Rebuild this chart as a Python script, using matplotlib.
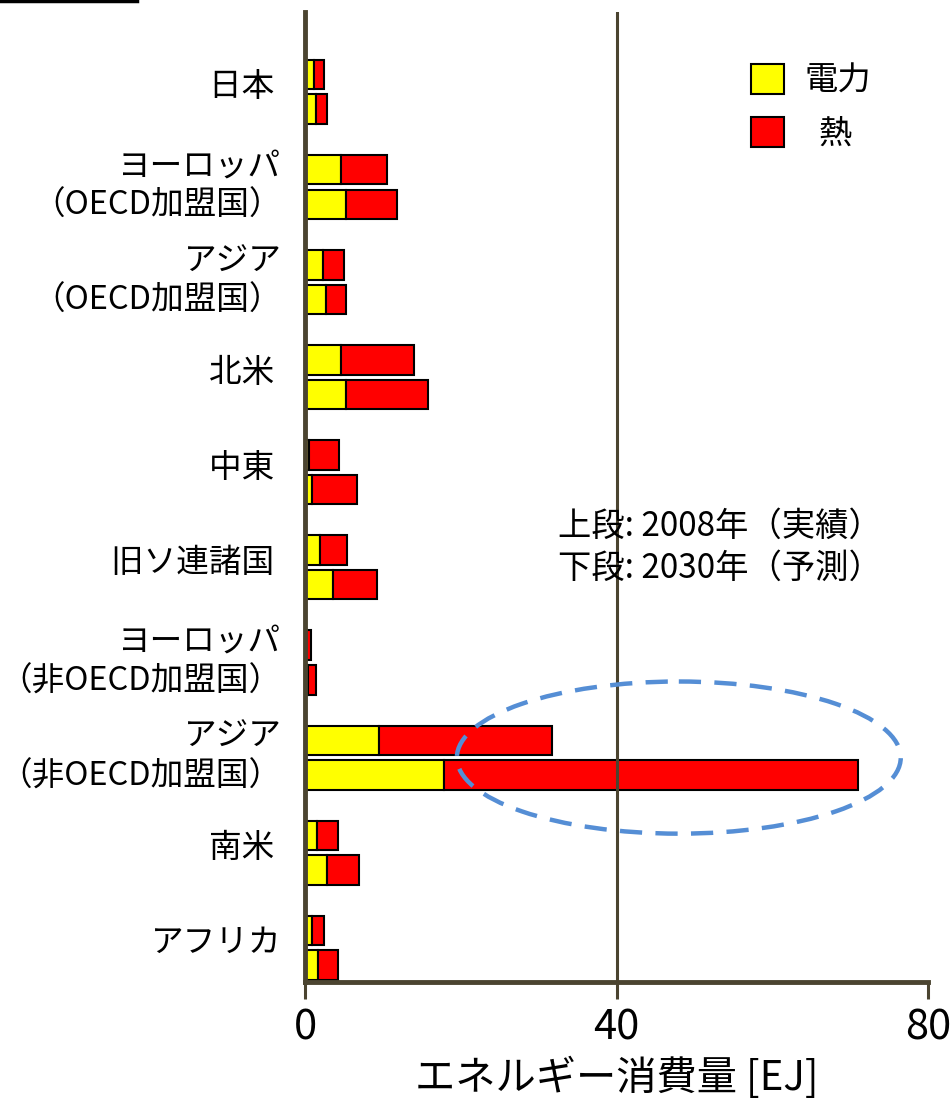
import matplotlib.pyplot as plt
from matplotlib.patches import Ellipse
from matplotlib.lines import Line2D
from matplotlib.transforms import ScaledTranslation

plt.rcParams['font.family'] = ['Noto Sans CJK JP', 'DejaVu Sans']

# ---------------------------------------------------------
# Data: energy use by region [EJ], upper bar 2008, lower bar 2030
# ---------------------------------------------------------
regions = [
    '日本 ',
    'ヨーロッパ\n（OECD加盟国）',
    'アジア\n（OECD加盟国）',
    '北米 ',
    '中東 ',
    '旧ソ連諸国 ',
    'ヨーロッパ\n（非OECD加盟国）',
    'アジア\n（非OECD加盟国）',
    '南米 ',
    'アフリカ',
]
power_2008 = [1.2, 4.6, 2.3, 4.6, 0.5, 1.9, 0.1, 9.5, 1.6, 0.9]
heat_2008 = [1.2, 5.9, 2.7, 9.4, 3.9, 3.5, 0.7, 22.2, 2.6, 1.5]
power_2030 = [1.4, 5.3, 2.7, 5.3, 0.9, 3.6, 0.4, 17.8, 2.8, 1.7]
heat_2030 = [1.4, 6.5, 2.6, 10.5, 5.8, 5.7, 1.0, 53.2, 4.1, 2.5]

x_ticks = [0, 40, 80]

YELLOW = '#FFFF00'
RED = '#FF0000'
AXIS = '#4B4430'

fig = plt.figure(figsize=(9.52, 11.04), dpi=100)
ax = fig.add_axes([0.3204, 0.1105, 0.6544, 0.8786])

pos = list(range(len(regions)))
off = 0.182
h = 0.31
upper = [p - off for p in pos]
lower = [p + off for p in pos]

bar_kw = dict(height=h, edgecolor='black', linewidth=1.5, zorder=2)
b1 = ax.barh(upper, power_2008, color=YELLOW, **bar_kw)
b2 = ax.barh(upper, heat_2008, left=power_2008, color=RED, **bar_kw)
ax.barh(lower, power_2030, color=YELLOW, **bar_kw)
ax.barh(lower, heat_2030, left=power_2030, color=RED, **bar_kw)

# vertical reference at 40 EJ sits in front of the bars
ax.axvline(40, color=AXIS, lw=2.2, zorder=3)

ax.set_xlim(0, 80)
ax.set_ylim(9.36, -0.84)
ax.set_xticks(x_ticks)
ax.set_xticklabels([str(t) for t in x_ticks], fontsize=30)
ax.set_yticks(pos)
ax.set_yticklabels(regions, fontsize=23.5, linespacing=1.3)
ax.tick_params(axis='y', length=0, pad=17)
ax.tick_params(axis='x', direction='out', length=12, width=2.2, color=AXIS, pad=6)

# region names sit a little above the centre of their bar pair
lift = ScaledTranslation(0, 8 / 100, fig.dpi_scale_trans)
for lbl in ax.get_yticklabels():
    lbl.set_transform(lbl.get_transform() + lift)

for side in ['top', 'right']:
    ax.spines[side].set_visible(False)
for side in ['left', 'bottom']:
    ax.spines[side].set_color(AXIS)
    ax.spines[side].set_linewidth(3.5)

ax.set_xlabel('エネルギー消費量 [EJ]', fontsize=29, labelpad=6)

# highlight the non-OECD Asia growth
ell = Ellipse((48, 7.0), 57, 1.6, fill=False, edgecolor='#558ED5',
              lw=3.2, linestyle=(0, (5, 3)), zorder=4)
ax.add_patch(ell)

ax.text(0.406, 0.448, '上段: 2008年（実績）\n下段: 2030年（予測）',
        transform=ax.transAxes, fontsize=24, ha='left', va='center',
        linespacing=1.25)

ax.legend([b1, b2], ['電力', '  熱'], loc='upper left',
          bbox_to_anchor=(0.716, 0.947), frameon=False, fontsize=24,
          handlelength=1.0, handleheight=1.0, handletextpad=0.6,
          labelspacing=0.55, borderpad=0, borderaxespad=0)

fig.add_artist(Line2D([0, 137 / 952], [0.999, 0.999], color='black', lw=2.5))

fig.savefig('out.png', dpi=100)
